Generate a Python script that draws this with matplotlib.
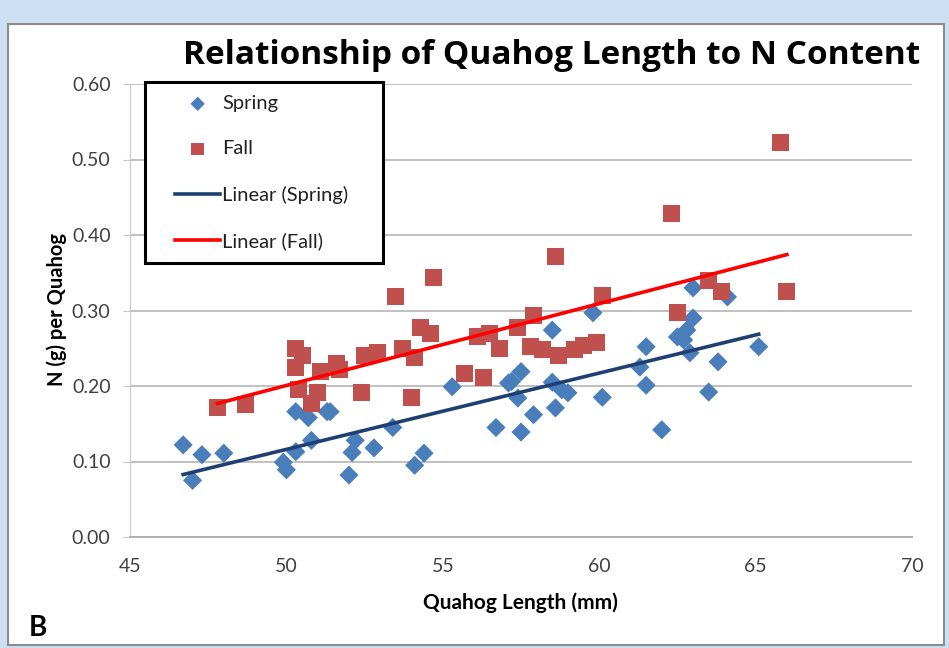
import matplotlib.pyplot as plt
import matplotlib.patches as mpatches
import numpy as np

plt.rcParams['font.family'] = ['Lato', 'DejaVu Sans']

# Spring samples: shell length (mm) and N per quahog (g)
spring_len = [46.7, 47.0, 47.3, 48.0, 49.9, 50.0, 50.3, 50.8, 50.3, 50.7,
              51.3, 51.4, 52.0, 52.1, 52.2, 52.8, 53.4, 54.1, 54.4, 55.3,
              56.7, 57.1, 57.2, 57.4, 57.5, 57.5, 57.9, 58.5, 58.5, 58.6,
              58.8, 59.0, 59.8, 60.1, 61.3, 61.5, 61.5, 62.0, 62.5, 62.7,
              62.8, 62.9, 63.0, 63.0, 63.5, 63.8, 64.1, 65.1]
spring_n = [0.122, 0.075, 0.109, 0.111, 0.099, 0.089, 0.113, 0.128, 0.166, 0.158,
            0.166, 0.166, 0.082, 0.112, 0.128, 0.118, 0.145, 0.095, 0.111, 0.199,
            0.145, 0.204, 0.206, 0.184, 0.219, 0.139, 0.162, 0.274, 0.205, 0.171,
            0.195, 0.191, 0.297, 0.185, 0.225, 0.252, 0.201, 0.142, 0.265, 0.261,
            0.274, 0.244, 0.290, 0.330, 0.192, 0.232, 0.318, 0.252]

# Fall samples
fall_len = [47.8, 48.7, 50.3, 50.5, 50.3, 51.6, 51.1, 50.4, 51.0, 50.8,
            54.7, 53.5, 54.3, 54.6, 53.7, 54.1, 52.9, 52.5, 52.4, 54.0,
            55.7, 56.3, 56.1, 56.5, 56.8, 58.6, 62.3, 60.1, 57.9, 57.4,
            57.8, 58.2, 58.7, 59.2, 59.5, 59.9, 62.5, 65.8, 63.5, 63.9,
            66.0, 51.7]
fall_n = [0.172, 0.175, 0.250, 0.241, 0.224, 0.230, 0.219, 0.195, 0.191, 0.177,
          0.344, 0.318, 0.278, 0.270, 0.250, 0.238, 0.245, 0.241, 0.191, 0.185,
          0.217, 0.211, 0.265, 0.270, 0.250, 0.371, 0.429, 0.320, 0.294, 0.277,
          0.252, 0.248, 0.241, 0.248, 0.254, 0.258, 0.297, 0.522, 0.340, 0.325,
          0.325, 0.222]

x_ticks = [45, 50, 55, 60, 65, 70]
y_ticks = [0.0, 0.1, 0.2, 0.3, 0.4, 0.5, 0.6]

SPRING_COLOR = '#4a7ebb'
FALL_COLOR = '#c0504d'

W, H = 949, 648


def fx(px):
    return px / W


def fy(py):
    return 1 - py / H


fig = plt.figure(figsize=(W / 100, H / 100), dpi=100)
fig.patch.set_facecolor('#cddff3')

# white slide panel with thin grey frame, kept behind the axes
panel = mpatches.Rectangle((fx(8), fy(645)), fx(936), 621 / H,
                           transform=fig.transFigure, facecolor='white',
                           edgecolor='#8c8c8c', linewidth=1.5, zorder=-5)
fig.patches.append(panel)

ax = fig.add_axes([fx(130), fy(537), fx(782), 453 / H])
ax.set_facecolor('white')

ax.scatter(spring_len, spring_n, marker='D', s=95, color=SPRING_COLOR,
           edgecolors='none', zorder=3, label='Spring')
ax.scatter(fall_len, fall_n, marker='s', s=150, color=FALL_COLOR,
           edgecolors='none', zorder=3, label='Fall')

# least squares trend lines over each season's range
for xs, ys, col, lab in [(spring_len, spring_n, '#1f3f73', 'Linear (Spring)'),
                         (fall_len, fall_n, '#ff0000', 'Linear (Fall)')]:
    k, b = np.polyfit(xs, ys, 1)
    xx = np.array([min(xs), max(xs)])
    ax.plot(xx, k * xx + b, color=col, linewidth=2.6, zorder=4, label=lab)

ax.set_xlim(45, 70)
ax.set_ylim(0, 0.6)
ax.set_xticks(x_ticks)
ax.set_yticks(y_ticks)
ax.set_yticklabels(['%.2f' % v for v in y_ticks])
ax.grid(axis='y', color='#c0c0c0', linewidth=1.4)
ax.set_axisbelow(True)

for s in ['top', 'right']:
    ax.spines[s].set_visible(False)
ax.spines['left'].set_color('#c8c8c8')
ax.spines['bottom'].set_color('#b0b0b0')
ax.spines['bottom'].set_linewidth(1.4)
ax.tick_params(axis='x', length=0, pad=15, labelsize=14, labelcolor='#404040')
ax.tick_params(axis='y', length=5, color='#c8c8c8', pad=9, labelsize=14,
               labelcolor='#404040')

fig.text(fx(520), fy(603), 'Quahog Length (mm)', ha='center', va='center',
         fontsize=15, fontweight='bold')
fig.text(fx(57), fy(310), 'N (g) per Quahog', ha='center', va='center',
         rotation=90, fontsize=14.5, fontweight='bold')

fig.text(fx(552), fy(56), 'Relationship of Quahog Length to N Content',
         ha='center', va='center', fontsize=24, fontweight='bold',
         family=['Open Sans', 'DejaVu Sans'])
fig.text(fx(29), fy(628), 'B', ha='left', va='center', fontsize=20,
         fontweight='bold')

# legend box drawn separately so its padding can be set in pixels
box = mpatches.Rectangle((fx(145), fy(263)), fx(238), 181 / H,
                         transform=fig.transFigure, facecolor='white',
                         edgecolor='black', linewidth=2.2, zorder=5,
                         clip_on=False)
ax.add_artist(box)

leg = ax.legend(loc='upper left', bbox_to_anchor=(fx(175), fy(95)),
                bbox_transform=fig.transFigure, fontsize=14.5, frameon=False,
                labelspacing=1.4, handlelength=2.25, handletextpad=0.1,
                borderpad=0, borderaxespad=0, markerscale=0.75)
leg.set_zorder(6)
for t in leg.get_texts():
    t.set_color('#202020')

fig.savefig('out.png', dpi=100, facecolor=fig.get_facecolor())
